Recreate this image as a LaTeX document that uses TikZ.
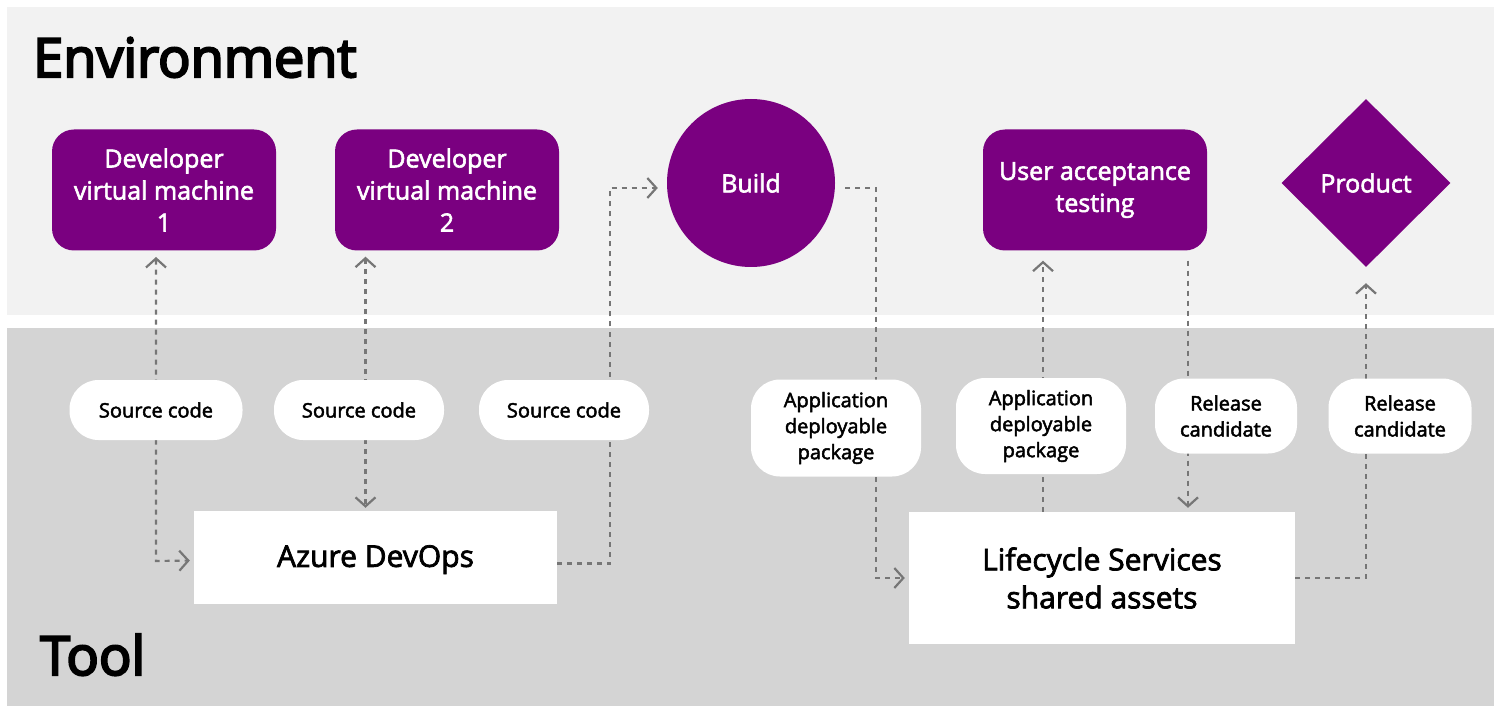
\documentclass[tikz,border=0pt]{standalone}
\usepackage{fontspec}
\setmainfont{Open Sans}
\newfontfamily\semib{Open Sans}[FakeBold=2.4]
\newfontfamily\heavy{Open Sans}[FakeBold=4]
\usepackage{tikz}
\usetikzlibrary{arrows.meta,positioning,shapes.geometric,calc}
\definecolor{envgray}{RGB}{242,242,242}
\definecolor{toolgray}{RGB}{212,212,212}
\definecolor{plum}{RGB}{122,0,128}
\definecolor{flowgray}{RGB}{118,118,118}

\begin{document}
\begin{tikzpicture}[x=1pt, y=-1pt,
    >={Straight Barb[length=9pt,width=20pt]},
    stage/.style={fill=plum, text=white, align=center, inner sep=0pt,
      font=\semib\fontsize{25}{32}\selectfont},
    vmbox/.style={stage, rounded corners=22pt, minimum width=224pt, minimum height=121pt},
    toolbox/.style={fill=white, align=center, inner sep=0pt,
      font=\semib\fontsize{30}{38}\selectfont},
    tag/.style={fill=white, align=center, inner sep=0pt, rounded corners=29pt,
      minimum height=60pt, font=\semib\fontsize{20}{26}\selectfont},
    flow/.style={draw=flowgray, line width=2.2pt, dash pattern=on 5pt off 5pt},
    heading/.style={anchor=base west, inner sep=0pt,
      font=\heavy\fontsize{54}{60}\selectfont}]
  \useasboundingbox (0,0) rectangle (1501,708);
  \fill[white] (0,0) rectangle (1501,708);
  % panels
  \fill[envgray] (7,7) rectangle (1494,315);
  \fill[toolgray] (7,328) rectangle (1494,706);
  \node[heading] (envtitle) at (33,77) {Environment};
  \node[heading] (tooltitle) at (40,675) {Tool};

  % environment stages
  \node[vmbox] (dev1) at (164,190) {Developer\\virtual machine\\1};
  \node[vmbox] (dev2) at (447,190) {Developer\\virtual machine\\2};
  \node[stage, circle, minimum size=168pt] (build) at (751,183) {Build};
  \node[vmbox] (uat) at (1095,190) {User acceptance\\testing};
  \node[stage, diamond, minimum width=169pt, minimum height=168pt] (product) at (1366,183) {Product};

  % tools
  \node[toolbox, minimum width=363pt, minimum height=93pt, text height=26pt] (azure) at (375.5,557.5) {Azure DevOps};
  \node[toolbox, minimum width=386pt, minimum height=132pt] (lcs) at (1102,578) {Lifecycle Services\\shared assets};

  % connectors
  \coordinate (vmtwo) at ($(azure.north)+(-10,0)$);
  \coordinate (uatup) at ($(lcs.north)+(-59,0)$);
  \coordinate (uatdown) at ($(lcs.north)+(86,0)$);
  \draw[flow, <->, shorten <=6pt, shorten >=4pt] (156,251) -- (156,561) -- ([yshift=-3pt]azure.west);
  \draw[flow, <->, shorten <=6pt, shorten >=3pt] (vmtwo |- dev2.south) -- (vmtwo);
  \draw[flow, ->, shorten >=9pt] ([yshift=-6pt]azure.east) -- ++(53,0) |- ([yshift=-5pt]build.west);
  \draw[flow, ->, shorten <=10pt, shorten >=4pt] ([yshift=-5pt]build.east) -- ++(41,0) |- (lcs.west);
  \draw[flow, ->, shorten >=10pt] (uatup) -- (uatup |- uat.south);
  \draw[flow, ->, shorten <=10pt, shorten >=4pt] (uatdown |- uat.south) -- (uatdown);
  \draw[flow, ->, shorten >=16pt] (lcs.east) -| (product.south);

  % labels on the connectors
  \node[tag, minimum width=173pt] (src1) at (156,410) {Source code};
  \node[tag, minimum width=170pt] (src2) at (359,410) {Source code};
  \node[tag, minimum width=170pt] (src3) at (564,410) {Source code};
  \node[tag, minimum width=170pt, minimum height=97pt] (pkg1) at (836,428) {Application\\deployable\\package};
  \node[tag, minimum width=170pt, minimum height=96pt] (pkg2) at (1041,426) {Application\\deployable\\package};
  \node[tag, minimum width=142pt, minimum height=75pt] (rc1) at (1226,416) {Release\\candidate};
  \node[tag, minimum width=143pt, minimum height=75pt] (rc2) at (1400,416) {Release\\candidate};
\end{tikzpicture}
\end{document}
